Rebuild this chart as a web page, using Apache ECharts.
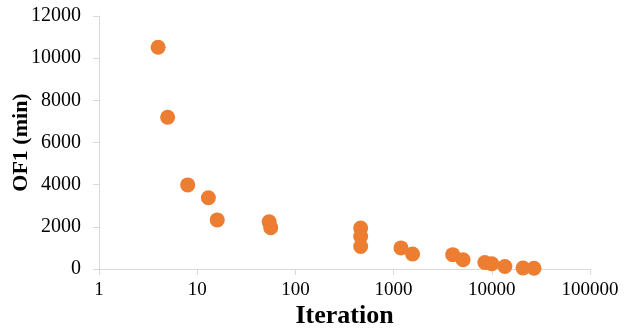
<!DOCTYPE html>
<html><head><meta charset="utf-8">
<script src="https://cdn.jsdelivr.net/npm/echarts@6/dist/echarts.min.js"></script>
<style>html,body{margin:0;padding:0;background:#fff}#c{width:624px;height:334px}</style>
</head><body><div id="c"></div>
<script>
const iterations = [4, 5, 8, 13, 16, 54, 56, 462, 462, 462, 1190, 1560, 4000, 5100, 8500, 10000, 13600, 20800, 26900];
const of1Values = [10520, 7200, 3990, 3380, 2330, 2240, 1960, 1940, 1540, 1070, 1000, 710, 680, 440, 310, 250, 120, 45, 35];
const xTicks = [1, 10, 100, 1000, 10000, 100000];
const yTicks = [0, 2000, 4000, 6000, 8000, 10000, 12000];

const font = 'Liberation Serif, Times New Roman, serif';
const chart = echarts.init(document.getElementById('c'));
chart.setOption({
  animation: false,
  grid: {left: 99, right: 34, top: 16, bottom: 65, containLabel: false, outerBoundsMode: 'none'},
  xAxis: {
    type: 'log', logBase: 10, min: xTicks[0], max: xTicks[xTicks.length - 1],
    name: 'Iteration', nameLocation: 'middle', nameGap: 34, nameMoveOverlap: false,
    nameTextStyle: {fontFamily: font, fontWeight: 'bold', fontSize: 26, color: '#000'},
    axisLine: {lineStyle: {color: '#d9d9d9', width: 1}},
    axisTick: {show: true, length: 6, lineStyle: {color: '#d9d9d9'}},
    minorTick: {show: false},
    splitLine: {show: false},
    axisLabel: {fontFamily: font, fontSize: 19, color: '#000', margin: 12, formatter: v => String(v)}
  },
  yAxis: {
    type: 'value', min: yTicks[0], max: yTicks[yTicks.length - 1], interval: 2000,
    name: 'OF1 (min)', nameLocation: 'middle', nameGap: 67, nameRotate: 90, nameMoveOverlap: false,
    nameTextStyle: {fontFamily: font, fontWeight: 'bold', fontSize: 22, color: '#000'},
    axisLine: {show: true, lineStyle: {color: '#d9d9d9', width: 1}},
    axisTick: {show: true, length: 6, lineStyle: {color: '#d9d9d9'}},
    splitLine: {show: false},
    axisLabel: {fontFamily: font, fontSize: 20, color: '#000', margin: 18, formatter: v => String(v)}
  },
  series: [{
    type: 'scatter',
    symbolSize: 15,
    itemStyle: {color: '#ED7D31', opacity: 1},
    data: iterations.map((x, i) => [x, of1Values[i]])
  }]
});
</script></body></html>
